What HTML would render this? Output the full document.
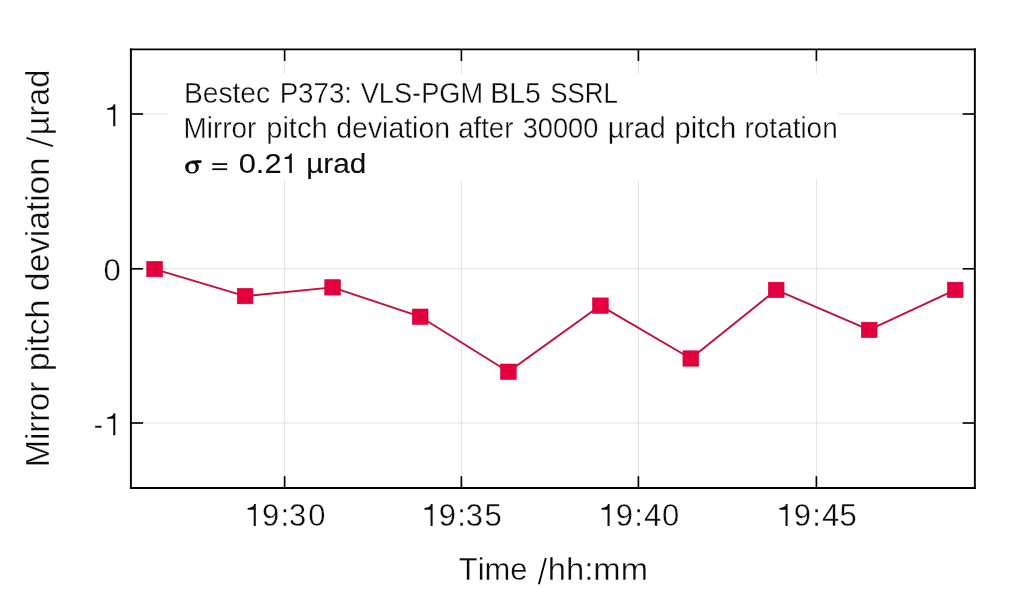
<!DOCTYPE html>
<html><head><meta charset="utf-8"><title>Mirror pitch deviation</title>
<style>
html,body{margin:0;padding:0;background:#fff;}
body{width:1024px;height:589px;overflow:hidden;font-family:"Liberation Sans",sans-serif;}
svg{display:block;}
#txt{opacity:0.999;}
text{font-family:"Liberation Sans",sans-serif;fill:#0c0c0c;font-kerning:none;}
.thin{stroke:#ffffff;stroke-width:0.35px;paint-order:fill stroke;}
.one{fill:#0c0c0c;}
.reg{stroke:#0c0c0c;stroke-width:0.1px;}
</style></head><body>
<svg width="1024" height="589" viewBox="0 0 1024 589">
<rect x="0" y="0" width="1024" height="589" fill="#ffffff"/>
<g stroke="#e3e3e3" stroke-width="1" fill="none">
<line x1="284.6" y1="49.4" x2="284.6" y2="488.0"/>
<line x1="461.4" y1="49.4" x2="461.4" y2="488.0"/>
<line x1="638.4" y1="49.4" x2="638.4" y2="488.0"/>
<line x1="816.4" y1="49.4" x2="816.4" y2="488.0"/>
<line x1="130.9" y1="114" x2="974.85" y2="114"/>
<line x1="130.9" y1="268.8" x2="974.85" y2="268.8"/>
<line x1="130.9" y1="423" x2="974.85" y2="423"/>
</g>
<rect x="168" y="74" width="670" height="106" fill="#ffffff"/>
<g stroke="#000" fill="none">
<line x1="130.9" y1="48.5" x2="130.9" y2="488.9" stroke-width="1.95"/>
<line x1="974.85" y1="48.5" x2="974.85" y2="488.9" stroke-width="1.95"/>
<line x1="129.925" y1="49.4" x2="975.825" y2="49.4" stroke-width="1.8"/>
<line x1="129.925" y1="488.0" x2="975.825" y2="488.0" stroke-width="1.8"/>
<line x1="284.6" y1="49.4" x2="284.6" y2="61.0" stroke-width="1.65"/>
<line x1="284.6" y1="488.0" x2="284.6" y2="476.2" stroke-width="1.65"/>
<line x1="461.4" y1="49.4" x2="461.4" y2="61.0" stroke-width="1.65"/>
<line x1="461.4" y1="488.0" x2="461.4" y2="476.2" stroke-width="1.65"/>
<line x1="638.4" y1="49.4" x2="638.4" y2="61.0" stroke-width="1.65"/>
<line x1="638.4" y1="488.0" x2="638.4" y2="476.2" stroke-width="1.65"/>
<line x1="816.4" y1="49.4" x2="816.4" y2="61.0" stroke-width="1.65"/>
<line x1="816.4" y1="488.0" x2="816.4" y2="476.2" stroke-width="1.65"/>
<line x1="130.9" y1="114" x2="143.1" y2="114" stroke-width="1.65"/>
<line x1="974.85" y1="114" x2="962.65" y2="114" stroke-width="1.65"/>
<line x1="130.9" y1="268.8" x2="143.1" y2="268.8" stroke-width="1.65"/>
<line x1="974.85" y1="268.8" x2="962.65" y2="268.8" stroke-width="1.65"/>
<line x1="130.9" y1="423" x2="143.1" y2="423" stroke-width="1.65"/>
<line x1="974.85" y1="423" x2="962.65" y2="423" stroke-width="1.65"/>
</g>
<polyline points="154.6,269.1 245.1,296.1 332.6,287.4 420.2,316.7 508.4,371.7 600.4,305.6 690.8,358.5 776.2,289.9 869.2,329.9 955.2,289.9" fill="none" stroke="#c20f3a" stroke-width="1.9" stroke-linejoin="round"/>
<rect x="146.75" y="261.40" width="15.7" height="15.4" fill="#e4003c" stroke="#d00038" stroke-width="0.6"/>
<rect x="237.25" y="288.40" width="15.7" height="15.4" fill="#e4003c" stroke="#d00038" stroke-width="0.6"/>
<rect x="324.75" y="279.70" width="15.7" height="15.4" fill="#e4003c" stroke="#d00038" stroke-width="0.6"/>
<rect x="412.35" y="309.00" width="15.7" height="15.4" fill="#e4003c" stroke="#d00038" stroke-width="0.6"/>
<rect x="500.55" y="364.00" width="15.7" height="15.4" fill="#e4003c" stroke="#d00038" stroke-width="0.6"/>
<rect x="592.55" y="297.90" width="15.7" height="15.4" fill="#e4003c" stroke="#d00038" stroke-width="0.6"/>
<rect x="682.95" y="350.80" width="15.7" height="15.4" fill="#e4003c" stroke="#d00038" stroke-width="0.6"/>
<rect x="768.35" y="282.20" width="15.7" height="15.4" fill="#e4003c" stroke="#d00038" stroke-width="0.6"/>
<rect x="861.35" y="322.20" width="15.7" height="15.4" fill="#e4003c" stroke="#d00038" stroke-width="0.6"/>
<rect x="947.35" y="282.20" width="15.7" height="15.4" fill="#e4003c" stroke="#d00038" stroke-width="0.6"/>
<g id="txt">
<path class="one" transform="translate(255.80 526.10)" d="M -2.08,0 L 0,0 L 0,-22.00 L -1.59,-22.00 C -1.88,-19.72 -3.96,-18.14 -8.13,-18.04 L -8.13,-16.37 L -2.08,-16.37 Z"/>
<text class="thin" font-size="31" transform="translate(261.89 526.10) scale(1.0 1)">9</text>
<text class="thin" font-size="31" transform="translate(280.44 526.10) scale(1.0 1)">:</text>
<text class="thin" font-size="31" transform="translate(289.07 526.10) scale(1.0 1)">3</text>
<text class="thin" font-size="31" transform="translate(308.13 526.10) scale(1.0 1)">0</text>
<path class="one" transform="translate(432.60 526.10)" d="M -2.08,0 L 0,0 L 0,-22.00 L -1.59,-22.00 C -1.88,-19.72 -3.96,-18.14 -8.13,-18.04 L -8.13,-16.37 L -2.08,-16.37 Z"/>
<text class="thin" font-size="31" transform="translate(438.69 526.10) scale(1.0 1)">9</text>
<text class="thin" font-size="31" transform="translate(457.24 526.10) scale(1.0 1)">:</text>
<text class="thin" font-size="31" transform="translate(465.87 526.10) scale(1.0 1)">3</text>
<text class="thin" font-size="31" transform="translate(484.46 526.10) scale(1.0 1)">5</text>
<path class="one" transform="translate(609.60 526.10)" d="M -2.08,0 L 0,0 L 0,-22.00 L -1.59,-22.00 C -1.88,-19.72 -3.96,-18.14 -8.13,-18.04 L -8.13,-16.37 L -2.08,-16.37 Z"/>
<text class="thin" font-size="31" transform="translate(615.69 526.10) scale(1.0 1)">9</text>
<text class="thin" font-size="31" transform="translate(634.24 526.10) scale(1.0 1)">:</text>
<text class="thin" font-size="31" transform="translate(643.98 526.10) scale(1.0 1)">4</text>
<text class="thin" font-size="31" transform="translate(661.93 526.10) scale(1.0 1)">0</text>
<path class="one" transform="translate(787.60 526.10)" d="M -2.08,0 L 0,0 L 0,-22.00 L -1.59,-22.00 C -1.88,-19.72 -3.96,-18.14 -8.13,-18.04 L -8.13,-16.37 L -2.08,-16.37 Z"/>
<text class="thin" font-size="31" transform="translate(793.69 526.10) scale(1.0 1)">9</text>
<text class="thin" font-size="31" transform="translate(812.24 526.10) scale(1.0 1)">:</text>
<text class="thin" font-size="31" transform="translate(821.98 526.10) scale(1.0 1)">4</text>
<text class="thin" font-size="31" transform="translate(839.46 526.10) scale(1.0 1)">5</text>
<path class="one" transform="translate(115.30 126.20)" d="M -2.08,0 L 0,0 L 0,-22.00 L -1.59,-22.00 C -1.88,-19.72 -3.96,-18.14 -8.13,-18.04 L -8.13,-16.37 L -2.08,-16.37 Z"/>
<text class="thin" font-size="31" transform="translate(103.43 281.00) scale(1.0 1)">0</text>
<path class="one" transform="translate(115.30 435.20)" d="M -2.08,0 L 0,0 L 0,-22.00 L -1.59,-22.00 C -1.88,-19.72 -3.96,-18.14 -8.13,-18.04 L -8.13,-16.37 L -2.08,-16.37 Z"/>
<text class="thin" font-size="31" transform="translate(93.76 435.20) scale(0.8985 1)">-</text>
<text class="thin" font-size="31.5" transform="translate(458.81 580.20) scale(0.9810 1)">Time</text>
<line x1="538.9" y1="584.3" x2="545.85" y2="558.1" stroke="#0c0c0c" stroke-width="1.9"/>
<text class="thin" font-size="31.5" transform="translate(547.83 580.20) scale(1.0401 1)">hh:mm</text>
<text class="thin" font-size="32.3" transform="translate(49.20 467.28) rotate(-90) scale(1.0132 1)">Mirror</text>
<text class="thin" font-size="32.3" transform="translate(49.20 371.28) rotate(-90) scale(1.0492 1)">pitch</text>
<text class="thin" font-size="32.3" transform="translate(49.20 290.90) rotate(-90) scale(1.0323 1)">deviation</text>
<line x1="26.4" y1="137.8" x2="53.0" y2="146.1" stroke="#0c0c0c" stroke-width="1.85"/>
<text class="thin" font-size="32.3" transform="translate(49.20 135.21) rotate(-90) scale(1.0016 1)">µrad</text>
<text class="thin" font-size="28.6" transform="translate(183.88 102.80) scale(0.9877 1)">Bestec</text>
<text class="thin" font-size="28.6" transform="translate(279.63 102.80) scale(0.9687 1)">P373:</text>
<text class="thin" font-size="28.6" transform="translate(360.68 102.80) scale(0.9512 1)">VLS-PGM</text>
<text class="thin" font-size="28.6" transform="translate(490.27 102.80) scale(0.9928 1)">BL5</text>
<text class="thin" font-size="28.6" transform="translate(550.22 102.80) scale(0.9053 1)">SSRL</text>
<text class="thin" font-size="28.6" transform="translate(183.51 137.70) scale(0.9758 1)">Mirror</text>
<text class="thin" font-size="28.6" transform="translate(266.23 137.70) scale(1.0157 1)">pitch</text>
<text class="thin" font-size="28.6" transform="translate(336.31 137.70) scale(0.9935 1)">deviation</text>
<text class="thin" font-size="28.6" transform="translate(458.13 137.70) scale(0.9651 1)">after</text>
<text class="thin" font-size="28.6" transform="translate(522.66 137.70) scale(0.9518 1)">30000</text>
<text class="thin" font-size="28.6" transform="translate(607.73 137.70) scale(1.0053 1)">µrad</text>
<text class="thin" font-size="28.6" transform="translate(674.62 137.70) scale(1.0210 1)">pitch</text>
<text class="thin" font-size="28.6" transform="translate(744.55 137.70) scale(0.9767 1)">rotation</text>
<path fill="#0c0c0c" fill-rule="evenodd" d="M185.1,167.3 a6.9,6.3 0 1,0 13.8,0 a6.9,6.3 0 1,0 -13.8,0 Z M188.5,167.8 a3.6,4.4 0 1,1 7.2,0 a3.6,4.4 0 1,1 -7.2,0 Z"/>
<path fill="#0c0c0c" d="M190.5,161.0 C192,160.5 194,160.4 201.6,160.3 L201.4,162.9 L195.5,162.9 Z"/>
<rect x="212.3" y="163.2" width="14.8" height="1.8" fill="#0c0c0c"/>
<rect x="212.3" y="168.3" width="14.8" height="1.8" fill="#0c0c0c"/>
<text class="reg" font-size="27.6" transform="translate(238.69 172.90) scale(1.1197 1)">0.2</text>
<path class="one" transform="translate(291.80 172.90)" d="M -2.44,0 L 0,0 L 0,-19.32 L -1.39,-19.32 C -1.65,-17.32 -3.48,-15.93 -7.14,-15.84 L -7.14,-13.89 L -2.44,-13.89 Z"/>
<text class="reg" font-size="27.6" transform="translate(306.17 172.90) scale(1.0781 1)">µrad</text>
</g>
</svg></body></html>
